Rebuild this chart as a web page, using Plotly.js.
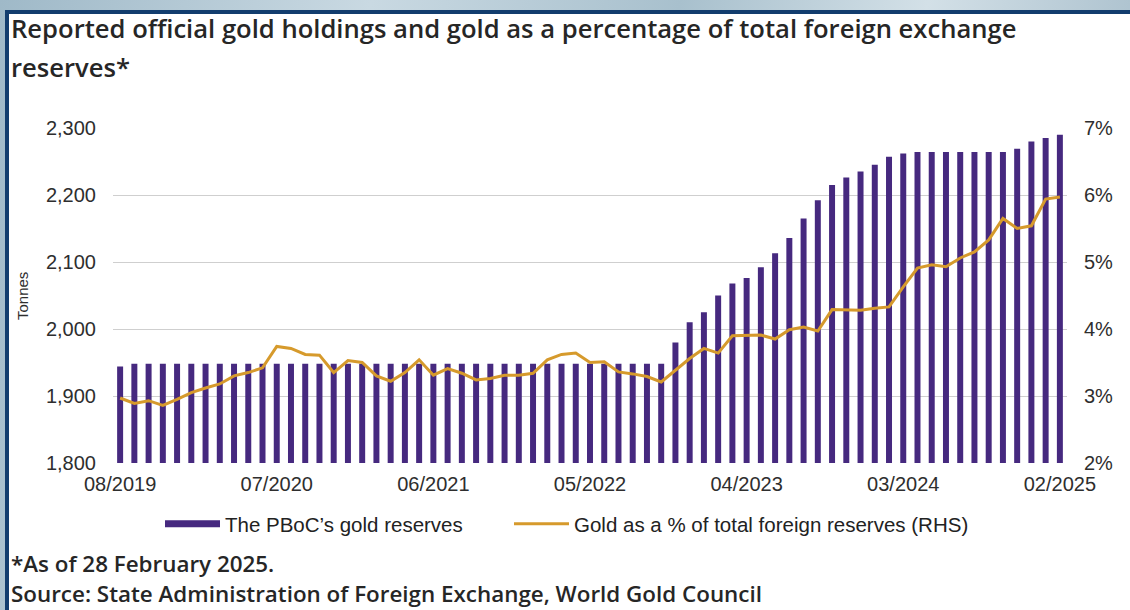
<!DOCTYPE html>
<html>
<head>
<meta charset="utf-8">
<script src="https://cdn.plot.ly/plotly-3.0.1.min.js"></script>
<style>
  html, body { margin:0; padding:0; }
  body { width:1130px; height:610px; overflow:hidden; position:relative;
         background: linear-gradient(100deg, #9fb9c8 0%, #c9d9e2 30%, #a8c0cd 55%, #d3e0e7 75%, #9cb5c4 100%); }
  #panel { position:absolute; left:5px; top:10px; width:1125px; height:600px;
           background:#ffffff; border-left:4px solid #123d6e; border-top:4px solid #123d6e; box-sizing:border-box; }
  #chart { position:absolute; left:0; top:0; width:1130px; height:610px; }
</style>
</head>
<body>
<div id="panel"></div>
<div id="chart"></div>
<script>
// ---- data ----
const months = [
  "08/2019","09/2019","10/2019","11/2019","12/2019",
  "01/2020","02/2020","03/2020","04/2020","05/2020","06/2020","07/2020","08/2020","09/2020","10/2020","11/2020","12/2020",
  "01/2021","02/2021","03/2021","04/2021","05/2021","06/2021","07/2021","08/2021","09/2021","10/2021","11/2021","12/2021",
  "01/2022","02/2022","03/2022","04/2022","05/2022","06/2022","07/2022","08/2022","09/2022","10/2022","11/2022","12/2022",
  "01/2023","02/2023","03/2023","04/2023","05/2023","06/2023","07/2023","08/2023","09/2023","10/2023","11/2023","12/2023",
  "01/2024","02/2024","03/2024","04/2024","05/2024","06/2024","07/2024","08/2024","09/2024","10/2024","11/2024","12/2024",
  "01/2025","02/2025"
];
const goldTonnes = [
  1944,1948,1948,1948,1948,
  1948,1948,1948,1948,1948,1948,1948,1948,1948,1948,1948,1948,
  1948,1948,1948,1948,1948,1948,1948,1948,1948,1948,1948,1948,
  1948,1948,1948,1948,1948,1948,1948,1948,1948,1948,1980,2010,
  2025,2050,2068,2076,2092,2113,2136,2165,2192,2215,2226,2235,
  2245,2257,2262,2264,2264,2264,2264,2264,2264,2264,2269,2280,
  2285,2290
];
const goldPct = [
  2.97,2.89,2.93,2.86,2.95,
  3.05,3.12,3.18,3.30,3.35,3.42,3.74,3.71,3.62,3.61,3.35,3.53,
  3.50,3.30,3.22,3.35,3.54,3.31,3.41,3.34,3.24,3.26,3.31,3.31,
  3.34,3.54,3.62,3.64,3.50,3.51,3.36,3.33,3.29,3.21,3.39,3.56,
  3.71,3.64,3.90,3.91,3.91,3.85,3.99,4.03,3.97,4.29,4.28,4.28,
  4.31,4.33,4.63,4.91,4.96,4.93,5.06,5.15,5.33,5.65,5.50,5.54,
  5.94,5.97
];
const xTickLabels = ["08/2019","07/2020","06/2021","05/2022","04/2023","03/2024","02/2025"];
const leftTicks = [1800,1900,2000,2100,2200,2300];
const leftTickText = ["1,800","1,900","2,000","2,100","2,200","2,300"];
const rightTicks = [2,3,4,5,6,7];
const rightTickText = ["2%","3%","4%","5%","6%","7%"];
const titleLine1 = "Reported official gold holdings and gold as a percentage of total foreign exchange";
const titleLine2 = "reserves*";
const note1 = "*As of 28 February 2025.";
const note2 = "Source: State Administration of Foreign Exchange, World Gold Council";
const barName = "The PBoC\u2019s gold reserves";
const lineName = "Gold as a % of total foreign reserves (RHS)";

// ---- layout geometry ----
const W = 1130, H = 610;
const ml = 113, mr = 63, mt = 128, mb = 147;
const pw = W - ml - mr, ph = H - mt - mb;
const px2x = p => (p - ml) / pw;
const py2y = p => 1 - (p - mt) / ph;

const purple = "#46297f";
const gold = "#d69a2c";
const sans = "Liberation Sans, Arial, sans-serif";
const tickFont = {family: sans, size: 20, color: "#2e2e2e"};
const legendFont = {family: sans, size: 20.5, color: "#222222"};
const titleFont = {family: "Open Sans, sans-serif", size: 25.6, weight: 600, color: "#262626"};
const noteFont = {family: "Open Sans, sans-serif", size: 22.4, weight: 600, color: "#262626"};

const traces = [
  {type: "bar", x: months, y: goldTonnes, marker: {color: purple}, name: barName,
   showlegend: false, yaxis: "y", hoverinfo: "skip"},
  {type: "scatter", mode: "lines", x: [null], y: [null], name: barName,
   line: {color: purple, width: 7}, yaxis: "y", hoverinfo: "skip", legend: "legend"},
  {type: "scatter", mode: "lines", x: months, y: goldPct, name: lineName,
   line: {color: gold, width: 3}, yaxis: "y2", hoverinfo: "skip", legend: "legend2"}
];

const layout = {
  width: W, height: H,
  margin: {l: ml, r: mr, t: mt, b: mb, pad: 0},
  paper_bgcolor: "rgba(0,0,0,0)",
  plot_bgcolor: "rgba(0,0,0,0)",
  bargap: 0.58,
  showlegend: true,
  legend: {orientation: "h", x: px2x(160), xanchor: "left", y: py2y(524), yanchor: "middle",
           font: legendFont, itemwidth: 55, bgcolor: "rgba(0,0,0,0)"},
  legend2: {orientation: "h", x: px2x(509), xanchor: "left", y: py2y(524), yanchor: "middle",
           font: legendFont, itemwidth: 55, bgcolor: "rgba(0,0,0,0)"},
  xaxis: {type: "category", tickmode: "array", tickvals: xTickLabels, ticktext: xTickLabels,
          tickfont: tickFont, showgrid: false, zeroline: false, showline: false, ticks: "",
          tickangle: 0, ticklabelstandoff: 7, range: [-0.5, months.length - 0.5]},
  yaxis: {range: [1800, 2300], tickmode: "array", tickvals: leftTicks, ticktext: leftTickText,
          tickfont: tickFont, showgrid: true, gridcolor: "#cfcfcf", gridwidth: 1,
          zeroline: false, showline: false, ticks: "", ticklabelstandoff: 16},
  yaxis2: {range: [2, 7], overlaying: "y", side: "right", tickmode: "array", tickvals: rightTicks,
           ticktext: rightTickText, tickfont: tickFont, showgrid: false, zeroline: false, showline: false,
           ticks: "", ticklabelstandoff: 16},
  annotations: [
    {text: titleLine1, xref: "paper", yref: "paper", x: px2x(9), y: py2y(28), xanchor: "left", yanchor: "middle",
     showarrow: false, font: titleFont},
    {text: titleLine2, xref: "paper", yref: "paper", x: px2x(9), y: py2y(68), xanchor: "left", yanchor: "middle",
     showarrow: false, font: titleFont},
    {text: "Tonnes", xref: "paper", yref: "paper", x: px2x(22), y: py2y(296), xanchor: "center", yanchor: "middle",
     textangle: -90, showarrow: false, font: {family: sans, size: 15, color: "#2e2e2e"}},
    {text: note1, xref: "paper", yref: "paper", x: px2x(9), y: py2y(563), xanchor: "left", yanchor: "middle",
     showarrow: false, font: noteFont},
    {text: note2, xref: "paper", yref: "paper", x: px2x(9), y: py2y(593), xanchor: "left", yanchor: "middle",
     showarrow: false, font: noteFont}
  ]
};

Plotly.newPlot("chart", traces, layout, {displayModeBar: false, staticPlot: true});
</script>
</body>
</html>
